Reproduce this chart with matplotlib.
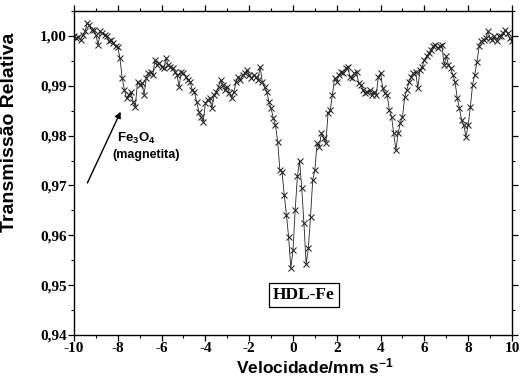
import matplotlib
matplotlib.use("Agg")
import matplotlib.pyplot as plt
from matplotlib.ticker import MultipleLocator, FuncFormatter

plt.rcParams["mathtext.fontset"] = "custom"
plt.rcParams["mathtext.rm"] = "Liberation Sans:bold"
plt.rcParams["mathtext.bf"] = "Liberation Sans:bold"
plt.rcParams["mathtext.it"] = "Liberation Sans:bold"
plt.rcParams["mathtext.default"] = "bf"

# Velocity (mm/s) of each channel
velocity = [
    -10.0, -9.9, -9.8, -9.7, -9.6, -9.5, -9.4, -9.3, -9.2, -9.1,
    -9.0, -8.9, -8.8, -8.7, -8.6, -8.5, -8.4, -8.3, -8.2, -8.1,
    -8.0, -7.9, -7.8, -7.7, -7.6, -7.5, -7.4, -7.3, -7.2, -7.1,
    -7.0, -6.9, -6.8, -6.7, -6.6, -6.5, -6.4, -6.3, -6.2, -6.1,
    -6.0, -5.9, -5.8, -5.7, -5.6, -5.5, -5.4, -5.3, -5.2, -5.1,
    -5.0, -4.9, -4.8, -4.7, -4.6, -4.5, -4.4, -4.3, -4.2, -4.1,
    -4.0, -3.9, -3.8, -3.7, -3.6, -3.5, -3.4, -3.3, -3.2, -3.1,
    -3.0, -2.9, -2.8, -2.7, -2.6, -2.5, -2.4, -2.3, -2.2, -2.1,
    -2.0, -1.9, -1.8, -1.7, -1.6, -1.5, -1.4, -1.3, -1.2, -1.1,
    -1.0, -0.9, -0.8, -0.7, -0.6, -0.5, -0.4, -0.3, -0.2, -0.1,
    0.0, 0.1, 0.2, 0.3, 0.4, 0.5, 0.6, 0.7, 0.8, 0.9,
    1.0, 1.1, 1.2, 1.3, 1.4, 1.5, 1.6, 1.7, 1.8, 1.9,
    2.0, 2.1, 2.2, 2.3, 2.4, 2.5, 2.6, 2.7, 2.8, 2.9,
    3.0, 3.1, 3.2, 3.3, 3.4, 3.5, 3.6, 3.7, 3.8, 3.9,
    4.0, 4.1, 4.2, 4.3, 4.4, 4.5, 4.6, 4.7, 4.8, 4.9,
    5.0, 5.1, 5.2, 5.3, 5.4, 5.5, 5.6, 5.7, 5.8, 5.9,
    6.0, 6.1, 6.2, 6.3, 6.4, 6.5, 6.6, 6.7, 6.8, 6.9,
    7.0, 7.1, 7.2, 7.3, 7.4, 7.5, 7.6, 7.7, 7.8, 7.9,
    8.0, 8.1, 8.2, 8.3, 8.4, 8.5, 8.6, 8.7, 8.8, 8.9,
    9.0, 9.1, 9.2, 9.3, 9.4, 9.5, 9.6, 9.7, 9.8, 9.9,
    10.0,
]

# Relative transmission
transmission = [
    0.9999, 0.9995, 0.9997, 0.9992, 1.0002, 1.0009, 1.0025, 1.0022, 1.0012, 1.0011,
    1.0002, 0.9982, 1.0009, 1.0005, 1.0002, 0.9999, 0.9989, 0.9992, 0.9985, 0.9979,
    0.9977, 0.9955, 0.9915, 0.9892, 0.9875, 0.9882, 0.9888, 0.9868, 0.9858, 0.9908,
    0.9902, 0.9905, 0.9882, 0.9915, 0.9925, 0.9928, 0.9922, 0.9952, 0.9942, 0.9945,
    0.9938, 0.9935, 0.9955, 0.9942, 0.9938, 0.9935, 0.9928, 0.9922, 0.9898, 0.9928,
    0.9925, 0.9918, 0.9912, 0.9908, 0.9892, 0.9888, 0.9868, 0.9848, 0.9838, 0.9828,
    0.9865, 0.9872, 0.9875, 0.9855, 0.9882, 0.9888, 0.9898, 0.9912, 0.9902, 0.9892,
    0.9898, 0.9885, 0.9875, 0.9888, 0.9908, 0.9918, 0.9912, 0.9922, 0.9925, 0.9932,
    0.9922, 0.9915, 0.9922, 0.9918, 0.9912, 0.9938, 0.9908, 0.9898, 0.9888, 0.9868,
    0.9855, 0.9835, 0.9821, 0.9788, 0.9731, 0.9728, 0.9681, 0.9641, 0.9597, 0.9534,
    0.9570, 0.9651, 0.9718, 0.9750, 0.9694, 0.9624, 0.9542, 0.9574, 0.9637, 0.9711,
    0.9731, 0.9785, 0.9778, 0.9805, 0.9795, 0.9785, 0.9845, 0.9851, 0.9882, 0.9915,
    0.9908, 0.9922, 0.9928, 0.9925, 0.9935, 0.9938, 0.9918, 0.9915, 0.9925, 0.9928,
    0.9905, 0.9902, 0.9892, 0.9885, 0.9888, 0.9892, 0.9882, 0.9888, 0.9882, 0.9918,
    0.9925, 0.9895, 0.9885, 0.9882, 0.9851, 0.9838, 0.9805, 0.9771, 0.9805, 0.9825,
    0.9838, 0.9877, 0.9892, 0.9908, 0.9918, 0.9925, 0.9928, 0.9895, 0.9932, 0.9938,
    0.9952, 0.9959, 0.9965, 0.9972, 0.9979, 0.9982, 0.9975, 0.9979, 0.9982, 0.9942,
    0.9959, 0.9942, 0.9935, 0.9922, 0.9908, 0.9875, 0.9855, 0.9831, 0.9821, 0.9798,
    0.9821, 0.9858, 0.9902, 0.9922, 0.9948, 0.9979, 0.9989, 0.9992, 0.9995, 1.0009,
    0.9995, 0.9992, 0.9999, 0.9989, 0.9999, 1.0000, 1.0005, 1.0012, 1.0005, 0.9995,
    0.9989,
]

x_ticks = [-10, -8, -6, -4, -2, 0, 2, 4, 6, 8, 10]
y_ticks = [0.94, 0.95, 0.96, 0.97, 0.98, 0.99, 1.00]

sample_label = "HDL-Fe"
phase_label = "Fe$_3$O$_4$"
phase_name = "(magnetita)"

fig = plt.figure(figsize=(5.2, 3.82), dpi=100)
ax = fig.add_axes([0.1423, 0.123, 0.8423, 0.8482])

ax.plot(velocity, transmission, color="#222222", lw=0.6, marker="x",
        ms=4.5, mew=0.75, mec="#222222")

ax.set_xlim(-10, 10)
ax.set_ylim(0.94, 1.005)
ax.set_xticks(x_ticks)
ax.set_yticks(y_ticks)
ax.xaxis.set_minor_locator(MultipleLocator(1))
ax.yaxis.set_minor_locator(MultipleLocator(0.005))
ax.xaxis.set_major_formatter(FuncFormatter(lambda v, p: f"{int(round(v))}"))
ax.yaxis.set_major_formatter(FuncFormatter(lambda v, p: f"{v:.2f}".replace(".", ",")))

ax.tick_params(which="both", top=True, right=True, labeltop=False, labelright=False)
ax.tick_params(axis="both", which="major", direction="out", length=4, width=0.9)
ax.tick_params(axis="both", which="minor", direction="out", length=2.5, width=0.8)
for lab in ax.get_xticklabels() + ax.get_yticklabels():
    lab.set_fontfamily("Liberation Serif")
    lab.set_fontweight("bold")
    lab.set_fontsize(11)
ax.tick_params(axis="x", pad=1)
ax.tick_params(axis="y", pad=1)

for s in ax.spines.values():
    s.set_linewidth(1.0)

ax.set_xlabel("Velocidade/mm s$^{-1}$", fontfamily="Liberation Sans",
              fontweight="bold", fontsize=12.5)
ax.xaxis.set_label_coords(0.55, -0.066)
ax.set_ylabel("Transmissão Relativa", fontfamily="Liberation Sans",
              fontweight="bold", fontsize=14)
ax.yaxis.set_label_coords(-0.128, 0.627)

ax.annotate("", xy=(-7.87, 0.9848), xytext=(-9.39, 0.9705),
            arrowprops=dict(arrowstyle="-|>", color="black", lw=1.0,
                            mutation_scale=9, shrinkA=0, shrinkB=0))
ax.text(-7.17, 0.9795, phase_label, fontfamily="Liberation Sans",
        fontweight="bold", fontsize=9.5, ha="center", va="center")
ax.text(-6.71, 0.9761, phase_name, fontfamily="Liberation Sans",
        fontweight="bold", fontsize=9, ha="center", va="center")

ax.text(0.5, 0.9480, sample_label, fontfamily="Liberation Serif",
        fontweight="bold", fontsize=12.5, ha="center", va="center",
        bbox=dict(boxstyle="square,pad=0.22", facecolor="white",
                  edgecolor="black", lw=0.9))

fig.savefig("out.png", dpi=100)
